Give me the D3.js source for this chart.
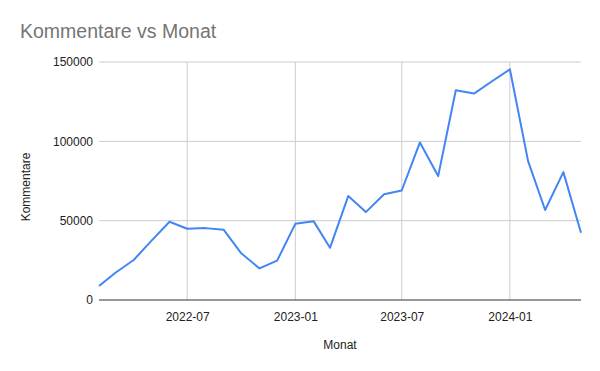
<!DOCTYPE html>
<html>
<head>
<meta charset="utf-8">
<script src="https://cdn.jsdelivr.net/npm/d3@7"></script>
<style>
  body { margin: 0; background: #fff; }
  text { font-family: "Liberation Sans", Arial, sans-serif; }
</style>
</head>
<body>
<div id="chart"></div>
<script>
let svgWidth = 600;
let svgHeight = 371;

let margin = { top: 62, right: 19, bottom: 71, left: 99 };
let width = svgWidth - margin.left - margin.right;
let height = svgHeight - margin.top - margin.bottom;

// Data: one value per month
let months = [
  "2022-02", "2022-03", "2022-04", "2022-05", "2022-06", "2022-07",
  "2022-08", "2022-09", "2022-10", "2022-11", "2022-12", "2023-01",
  "2023-02", "2023-03", "2023-04", "2023-05", "2023-06", "2023-07",
  "2023-08", "2023-09", "2023-10", "2023-11", "2023-12", "2024-01",
  "2024-02", "2024-03", "2024-04", "2024-05"
];
let kommentare = [
  8800, 17200, 25200, 37300, 49300, 44900,
  45300, 44300, 29400, 19900, 24800, 48000,
  49700, 32900, 65500, 55400, 66700, 69000,
  99300, 78100, 132200, 130100, 137700, 145400,
  87500, 56700, 80600, 42400
];
let xTicks = ["2022-07", "2023-01", "2023-07", "2024-01"];
let yTicks = [0, 50000, 100000, 150000];

let parseMonth = d3.timeParse("%Y-%m");
let data = months.map((m, i) => ({ date: parseMonth(m), value: kommentare[i] }));

let svg = d3.select("#chart")
  .append("svg")
  .attr("width", svgWidth)
  .attr("height", svgHeight);

// Title
svg.append("text")
  .attr("x", 20)
  .attr("y", 38)
  .attr("font-size", "19.5px")
  .attr("fill", "#757575")
  .text("Kommentare vs Monat");

let chartGroup = svg.append("g")
  .attr("transform", `translate(${margin.left}, ${margin.top})`);

// Scales
let xScale = d3.scaleTime()
  .domain([data[0].date, data[data.length - 1].date])
  .range([0, width]);

let yScale = d3.scaleLinear()
  .domain([0, 150000])
  .range([height, 0]);

// Grid lines
chartGroup.append("g")
  .selectAll("line")
  .data(yTicks.slice(1))
  .enter()
  .append("line")
  .attr("x1", 0)
  .attr("x2", width)
  .attr("y1", d => yScale(d))
  .attr("y2", d => yScale(d))
  .attr("stroke", "#cccccc")
  .attr("stroke-width", 1);

chartGroup.append("g")
  .selectAll("line")
  .data(xTicks)
  .enter()
  .append("line")
  .attr("x1", d => xScale(parseMonth(d)))
  .attr("x2", d => xScale(parseMonth(d)))
  .attr("y1", 0)
  .attr("y2", height)
  .attr("stroke", "#cccccc")
  .attr("stroke-width", 1);

// Axes
let bottomAxis = d3.axisBottom(xScale)
  .tickValues(xTicks.map(parseMonth))
  .tickFormat(d3.timeFormat("%Y-%m"))
  .tickSize(0)
  .tickPadding(12);

let leftAxis = d3.axisLeft(yScale)
  .tickValues(yTicks)
  .tickFormat(d3.format("d"))
  .tickSize(0)
  .tickPadding(6);

let xAxisG = chartGroup.append("g")
  .attr("transform", `translate(0, ${height})`)
  .call(bottomAxis);
xAxisG.select(".domain").remove();
xAxisG.selectAll("text")
  .attr("font-size", "12px")
  .attr("font-family", "Liberation Sans, Arial, sans-serif")
  .attr("fill", "#222");

let yAxisG = chartGroup.append("g").call(leftAxis);
yAxisG.select(".domain").remove();
yAxisG.selectAll("text")
  .attr("font-size", "12px")
  .attr("font-family", "Liberation Sans, Arial, sans-serif")
  .attr("fill", "#222");

// Baseline
chartGroup.append("line")
  .attr("x1", 0)
  .attr("x2", width)
  .attr("y1", yScale(0))
  .attr("y2", yScale(0))
  .attr("stroke", "#333")
  .attr("stroke-width", 1);

// Line
let line = d3.line()
  .x(d => xScale(d.date))
  .y(d => yScale(d.value));

chartGroup.append("path")
  .datum(data)
  .attr("fill", "none")
  .attr("stroke", "#4285f4")
  .attr("stroke-width", 2)
  .attr("stroke-linejoin", "round")
  .attr("d", line);

// Axis labels
svg.append("text")
  .attr("transform", `translate(30, ${margin.top + height / 2 + 6}) rotate(-90)`)
  .attr("text-anchor", "middle")
  .attr("font-size", "12px")
  .attr("fill", "#222")
  .text("Kommentare");

svg.append("text")
  .attr("x", margin.left + width / 2)
  .attr("y", 349)
  .attr("text-anchor", "middle")
  .attr("font-size", "12px")
  .attr("fill", "#222")
  .text("Monat");
</script>
</body>
</html>
